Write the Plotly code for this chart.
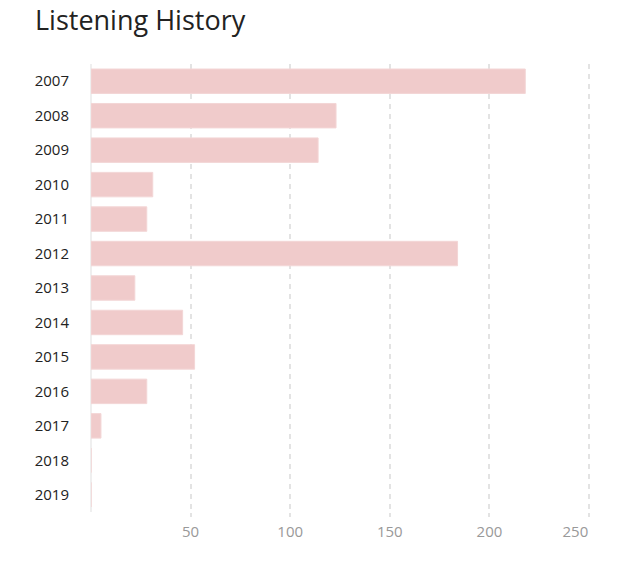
import plotly.graph_objects as go

years = ["2007", "2008", "2009", "2010", "2011", "2012", "2013",
         "2014", "2015", "2016", "2017", "2018", "2019"]
plays = [218, 123, 114, 31, 28, 184, 22, 46, 52, 28, 5, 0, 0]
x_ticks = [50, 100, 150, 200, 250]
x_tick_labels = ["50", "100", "150", "200", "250" + "\u00a0" * 7]

fig = go.Figure(go.Bar(
    x=plays, y=years, orientation="h",
    marker=dict(color="#f0cbcb", line=dict(color="#f3d6d6", width=1)),
    width=0.71,
    hoverinfo="x+y",
))

fig.update_layout(
    width=641, height=561,
    margin=dict(l=91, r=42, t=64, b=49),
    paper_bgcolor="white", plot_bgcolor="white",
    font=dict(family="Open Sans", size=15, color="#333"),
    title=dict(text="Listening History",
               x=35 / 641, xref="container", xanchor="left",
               y=1 - 21 / 561, yanchor="middle", yref="container",
               font=dict(family="Open Sans", size=27, color="#222")),
    showlegend=False,
    bargap=0.29,
)

fig.update_xaxes(
    range=[0, 255], tickvals=x_ticks, ticktext=x_tick_labels,
    showgrid=True, gridcolor="#e3e3e3", griddash="5px,5px", gridwidth=1.5,
    zeroline=True, zerolinecolor="#efefef", zerolinewidth=2,
    showline=False, ticks="outside", ticklen=4, tickcolor="#e3e3e3", tickwidth=1.5,
    tickfont=dict(color="#999", size=15), ticklabelstandoff=2,
)
fig.update_yaxes(
    categoryorder="array", categoryarray=years[::-1],
    showgrid=False, showline=False, ticks="", ticklabelstandoff=21,
    tickfont=dict(color="#222", size=15),
)

fig.write_html("out.html", config={"displayModeBar": False},
               post_script="document.body.style.margin='0';")
